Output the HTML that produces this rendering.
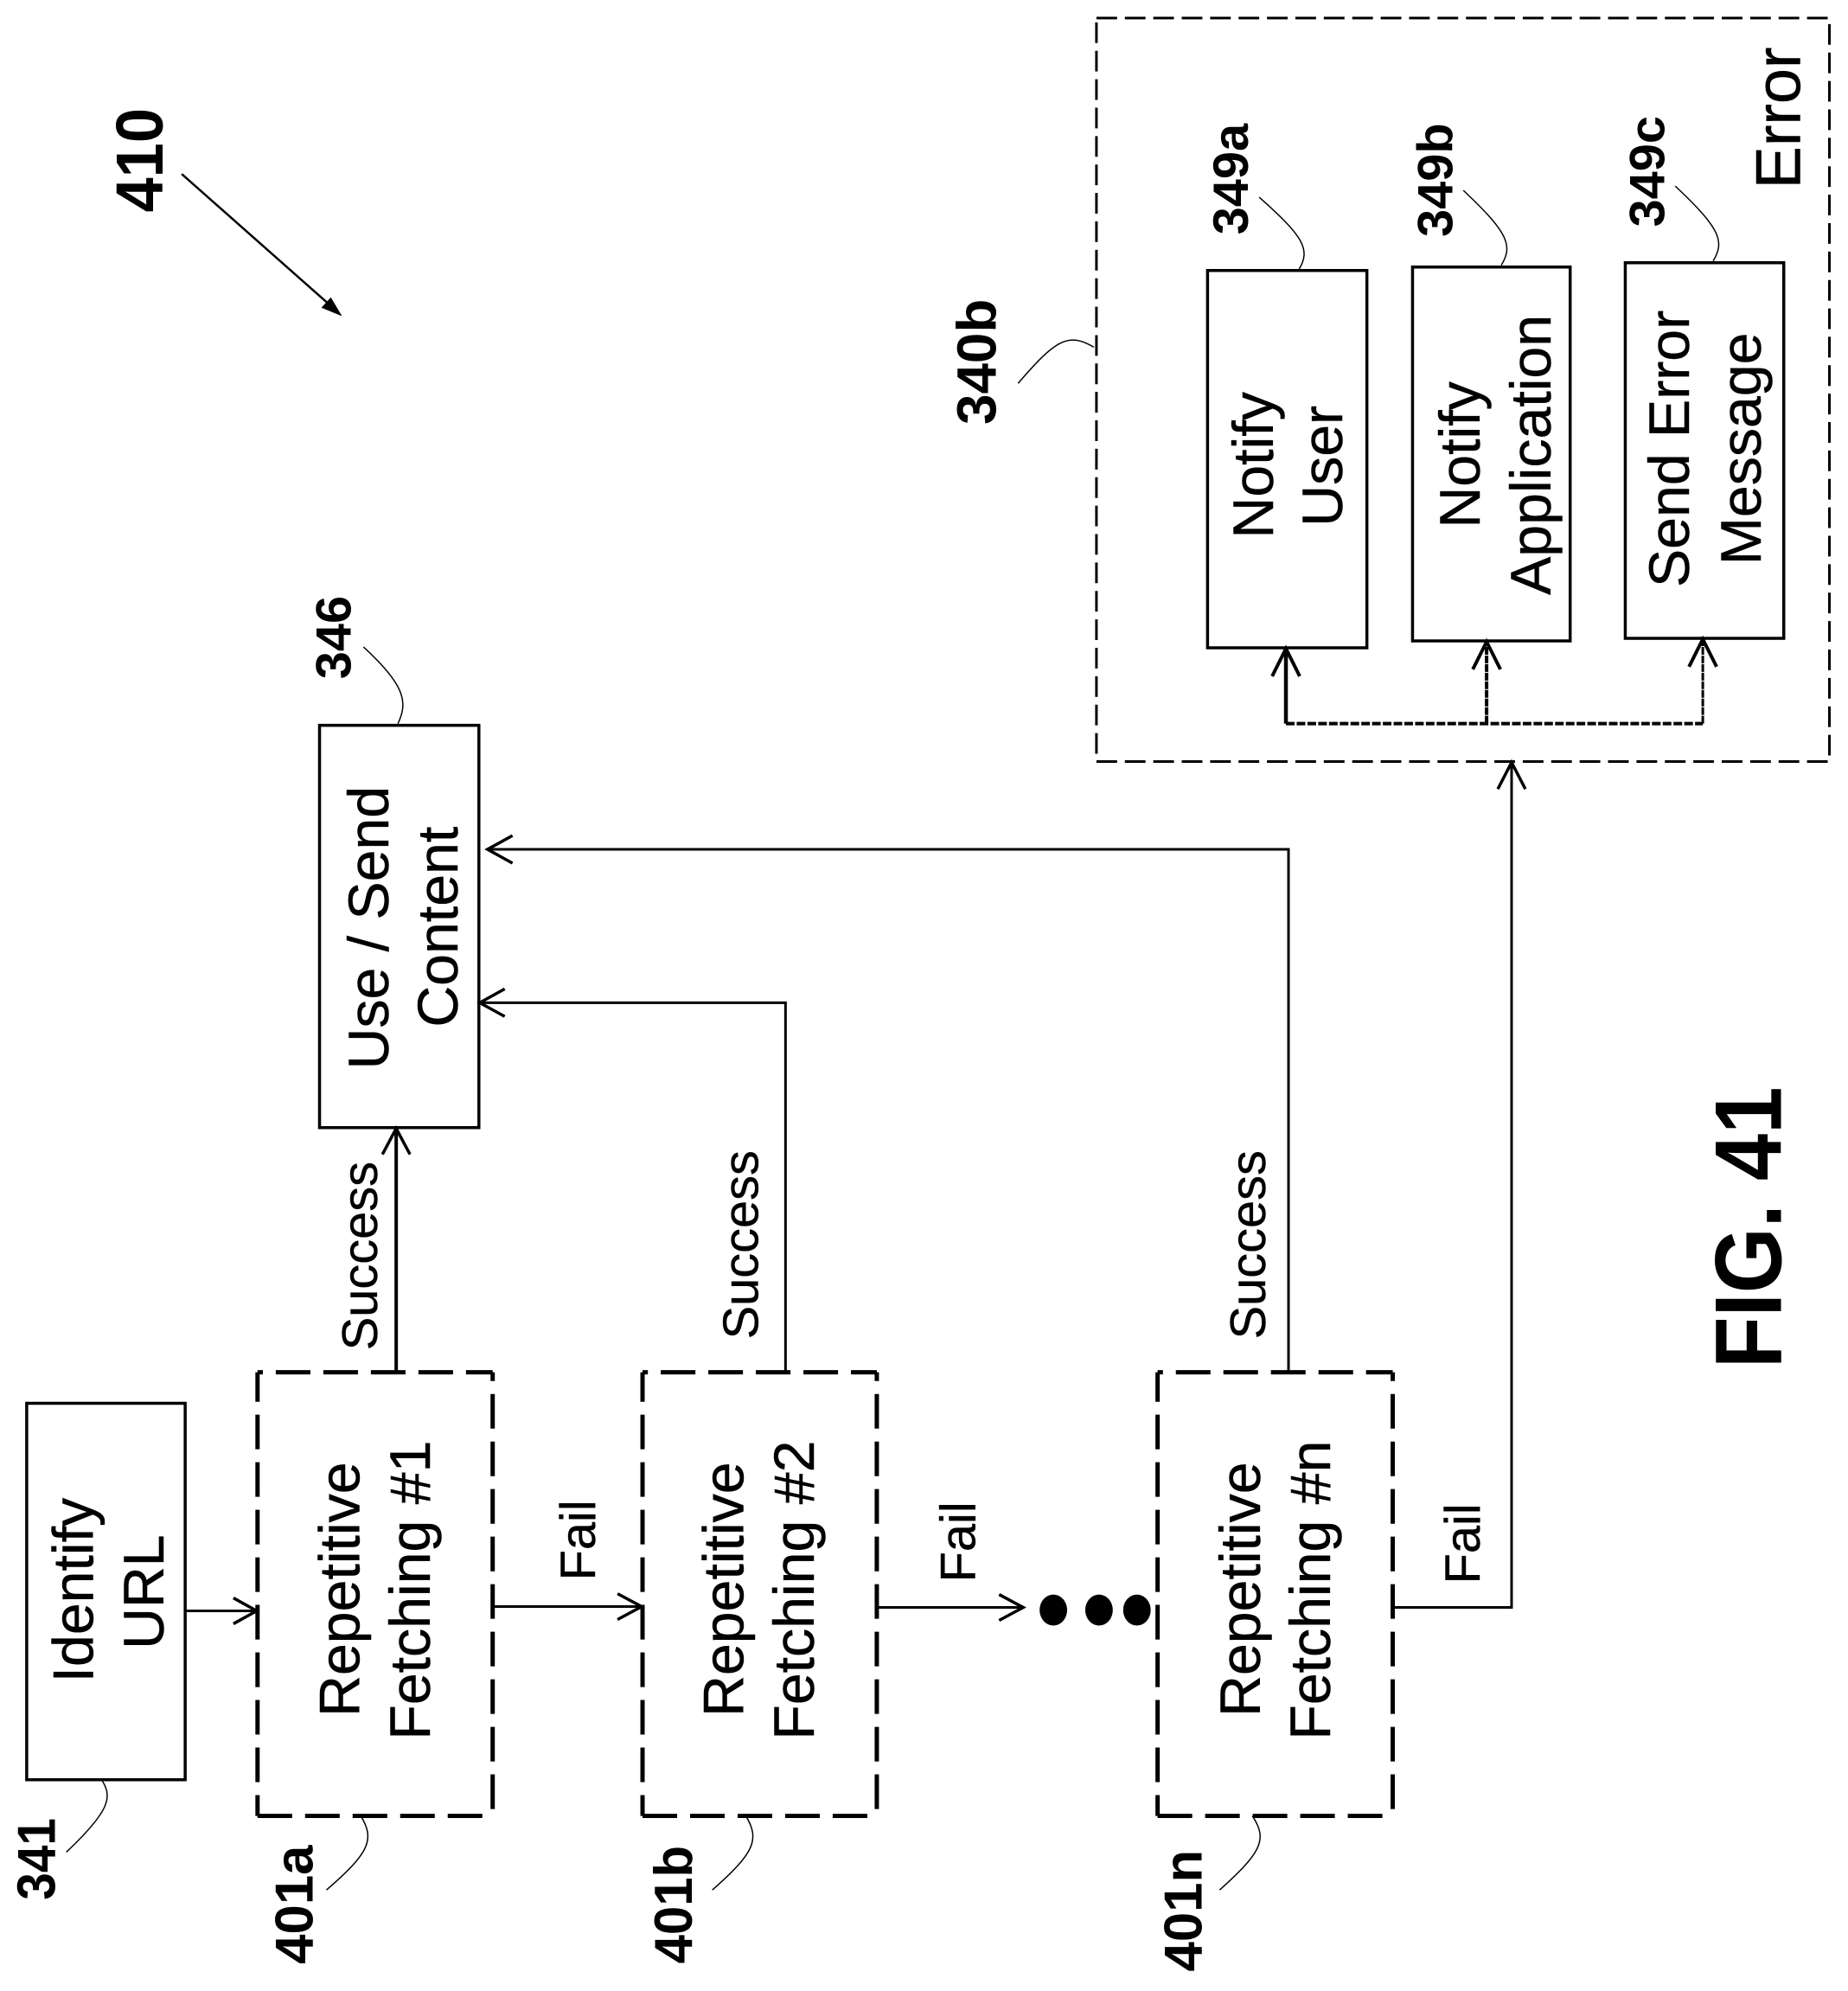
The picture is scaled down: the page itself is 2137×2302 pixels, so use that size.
<!DOCTYPE html>
<html lang="en"><head><meta charset="utf-8"><title>FIG. 41</title>
<style>
html,body{margin:0;padding:0;background:#fff}
svg{display:block}
text{font-family:"Liberation Sans",sans-serif;fill:#000;text-anchor:middle}
.t{font-size:66.5px;stroke:#000;stroke-width:.5}
.s{font-size:58px;stroke:#000;stroke-width:.4}
.b{font-weight:bold;font-size:62px}
.bx{fill:none;stroke:#000;stroke-width:3.5}
.ln{fill:none;stroke:#000;stroke-width:3}
.hd{fill:none;stroke:#000;stroke-width:3.5}
.le{fill:none;stroke:#000;stroke-width:1.5}
.dt{stroke:#000;stroke-width:5;stroke-dasharray:40.2 15;stroke-dashoffset:34;fill:none}
.db{stroke:#000;stroke-width:5;stroke-dasharray:40.2 15;fill:none}
.dl{stroke:#000;stroke-width:5;stroke-dasharray:40.2 15;stroke-dashoffset:6;fill:none}
.dr{stroke:#000;stroke-width:5;stroke-dasharray:40.2 15;stroke-dashoffset:30;fill:none}
.e{stroke:#000;stroke-width:3;stroke-dasharray:24 9;fill:none}
</style></head><body>
<svg width="2137" height="2302" viewBox="0 0 2137 2302" xmlns="http://www.w3.org/2000/svg">
<rect width="2137" height="2302" fill="#fff"/>
<g transform="scale(0.996)">

<!-- solid boxes -->
<rect class="bx" x="31" y="1629" width="184" height="437"/>
<rect class="bx" x="371" y="842" width="185" height="467"/>
<rect class="bx" x="1402" y="314" width="185" height="438"/>
<rect class="bx" x="1640" y="310" width="183" height="434"/>
<rect class="bx" x="1887" y="305" width="184" height="436"/>

<!-- dashed repetitive boxes -->
<path class="dt" d="M299 1593H572"/><path class="db" d="M299 2108H572"/>
<path class="dl" d="M299 1593V2108"/><path class="dr" d="M572 1593V2108"/>
<path class="dt" d="M746 1593H1018"/><path class="db" d="M746 2108H1018"/>
<path class="dl" d="M746 1593V2108"/><path class="dr" d="M1018 1593V2108"/>
<path class="dt" d="M1344 1593H1617"/><path class="db" d="M1344 2108H1617"/>
<path class="dl" d="M1344 1593V2108"/><path class="dr" d="M1617 1593V2108"/>

<!-- error box -->
<rect class="e" x="1273" y="21" width="851" height="863"/>

<!-- connectors -->
<path class="ln" d="M215 1870H297"/><path class="hd" d="M271 1855L298 1870L271 1885"/>
<path class="ln" d="M572 1865H744"/><path class="hd" d="M717 1850L745 1865L717 1880"/>
<path class="ln" d="M1018 1866H1187"/><path class="hd" d="M1160 1851L1188 1866L1160 1881"/>
<path class="ln" d="M460 1593V1311" style="stroke-width:4"/><path class="hd" d="M444 1340L460 1310L476 1340"/>
<path class="ln" d="M912 1593V1164H558"/><path class="hd" d="M586 1148L557 1164L586 1180"/>
<path class="ln" d="M1496 1593V986H567"/><path class="hd" d="M595 970L566 986L595 1002"/>
<path class="ln" d="M1617 1866H1755V886"/><path class="hd" d="M1739 916L1755 885L1771 916"/>

<!-- dots -->
<ellipse cx="1223" cy="1869" rx="16" ry="18"/>
<ellipse cx="1276" cy="1869" rx="16" ry="18"/>
<ellipse cx="1320" cy="1869" rx="16" ry="18"/>

<!-- internal error connectors -->
<path class="ln" d="M1493 840V755" style="stroke-width:4.5"/><path class="hd" d="M1477 785L1493 753L1509 785" style="stroke-width:4"/>
<path class="ln" d="M1726 840V747" style="stroke-dasharray:9 1;stroke-width:4"/><path class="hd" d="M1710 777L1726 745L1742 777" style="stroke-width:4"/>
<path class="ln" d="M1977 840V744" style="stroke-dasharray:9 1"/><path class="hd" d="M1961 774L1977 742L1993 774" style="stroke-width:4"/>
<path class="ln" d="M1493 840H1977" style="stroke-dasharray:10 2.5;stroke-width:4"/>

<!-- 410 arrow -->
<path d="M211 202L384 355" stroke="#000" stroke-width="2.5" fill="none"/>
<path d="M396 366L374 357L384 346Z" fill="#000" stroke="#000"/>

<!-- leaders -->
<path class="le" d="M118 2066C130 2085 130 2100 77 2150"/>
<path class="le" d="M419 2108C435 2135 430 2150 379 2194"/>
<path class="le" d="M866 2108C882 2135 877 2150 827 2194"/>
<path class="le" d="M1454 2108C1472 2135 1465 2150 1416 2194"/>
<path class="le" d="M462 840C474 815 470 795 422 751"/>
<path class="le" d="M1508 313C1522 290 1514 275 1462 229"/>
<path class="le" d="M1743 308C1757 285 1751 270 1699 221"/>
<path class="le" d="M1989 303C2003 280 1997 265 1945 216"/>
<path class="le" d="M1270 403C1240 385 1225 395 1182 445"/>

<!-- box labels -->
<text class="t" transform="translate(108,1846) rotate(-90)">Identify</text>
<text class="t" transform="translate(190,1848) rotate(-90)">URL</text>
<text class="t" transform="translate(417,1845) rotate(-90)">Repetitive</text>
<text class="t" transform="translate(499,1846) rotate(-90)">Fetching #1</text>
<text class="t" transform="translate(863,1845) rotate(-90)">Repetitive</text>
<text class="t" transform="translate(945,1846) rotate(-90)">Fetching #2</text>
<text class="t" transform="translate(1463,1845) rotate(-90)">Repetitive</text>
<text class="t" transform="translate(1544,1846) rotate(-90)">Fetching #n</text>
<text class="t" transform="translate(451,1077) rotate(-90)">Use / Send</text>
<text class="t" transform="translate(531,1076) rotate(-90)">Content</text>
<text class="t" transform="translate(1478,540) rotate(-90)">Notify</text>
<text class="t" transform="translate(1558,541) rotate(-90)">User</text>
<text class="t" transform="translate(1718,528) rotate(-90)">Notify</text>
<text class="t" transform="translate(1800,528) rotate(-90)">Application</text>
<text class="t" transform="translate(1961,521) rotate(-90)">Send Error</text>
<text class="t" transform="translate(2044,521) rotate(-90)">Message</text>
<text class="t" style="font-size:74px" transform="translate(2090,137) rotate(-90)">Error</text>

<!-- connector labels -->
<text class="s" transform="translate(438,1458) rotate(-90)">Success</text>
<text class="s" transform="translate(880,1445) rotate(-90)">Success</text>
<text class="s" transform="translate(1469,1445) rotate(-90)">Success</text>
<text class="s" transform="translate(691,1788) rotate(-90)">Fail</text>
<text class="s" transform="translate(1132,1790) rotate(-90)">Fail</text>
<text class="s" transform="translate(1718,1792) rotate(-90)">Fail</text>

<!-- reference numerals -->
<text class="b" transform="translate(64,2158) rotate(-90) scale(.92,1)">341</text>
<text class="b" transform="translate(363,2211) rotate(-90)">401a</text>
<text class="b" transform="translate(803,2211) rotate(-90) scale(.97,1)">401b</text>
<text class="b" transform="translate(1395,2218) rotate(-90)">401n</text>
<text class="b" style="font-size:58px" transform="translate(407,740) rotate(-90)">346</text>
<text class="b" style="font-size:64px" transform="translate(1156,420) rotate(-90)">340b</text>
<text class="b" style="font-size:58px" transform="translate(1449,208) rotate(-90)">349a</text>
<text class="b" style="font-size:58px" transform="translate(1686,209) rotate(-90)">349b</text>
<text class="b" style="font-size:58px" transform="translate(1932,199) rotate(-90)">349c</text>
<text class="b" style="font-size:74px" transform="translate(189,186) rotate(-90) scale(.98,1.05)">410</text>
<text class="b" style="font-size:100px" transform="translate(2068,1425) rotate(-90) scale(.98,1.1)">FIG. 41</text>
</g>
</svg>
</body></html>
